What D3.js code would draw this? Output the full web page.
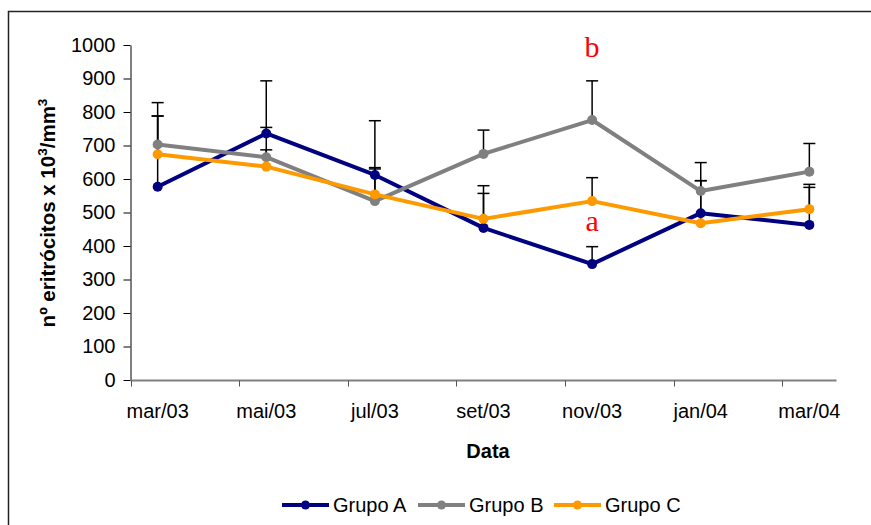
<!DOCTYPE html>
<html>
<head>
<meta charset="utf-8">
<script src="https://cdn.jsdelivr.net/npm/d3@7"></script>
<style>
  body { margin: 0; background: #fff; }
  svg { display: block; font-family: "Liberation Sans", Arial, sans-serif; }
</style>
</head>
<body>
<div id="chart"></div>
<script>
// data
var months = ["mar/03", "mai/03", "jul/03", "set/03", "nov/03", "jan/04", "mar/04"];
var grupoA = [577, 736, 612, 454, 346, 498, 463];
var grupoB = [703, 665, 534, 675, 776, 564, 622];
var grupoC = [674, 637, 554, 481, 534, 468, 510];
// upper end of each error bar
var topA = [828, 893, 774, 557, 398, 595, 575];
var topB = [788, 754, 634, 746, 893, 649, 706];
var topC = [788, 687, 630, 580, 604, 595, 584];
var yTicks = [0, 100, 200, 300, 400, 500, 600, 700, 800, 900, 1000];

var series = [
  {name: "Grupo A", values: grupoA, tops: topA, color: "#000080"},
  {name: "Grupo B", values: grupoB, tops: topB, color: "#808080"},
  {name: "Grupo C", values: grupoC, tops: topC, color: "#FF9900"}
];

var width = 871, height = 525;

var svg = d3.select("#chart").append("svg")
  .attr("width", width)
  .attr("height", height);

// chart frame
svg.append("rect")
  .attr("x", 8.5).attr("y", 11.5)
  .attr("width", 880).attr("height", 540)
  .attr("fill", "none")
  .attr("stroke", "#222")
  .attr("stroke-width", 1.5);

// index scale: the axis starts a quarter step before the first point
var x = d3.scaleLinear().domain([-0.25, 6.25]).range([130.5, 836.5]);
var y = d3.scaleLinear().domain([0, 1000]).range([380, 45]);

// y axis
var yAxis = svg.append("g")
  .attr("transform", "translate(130.5,0)")
  .call(d3.axisLeft(y).tickValues(yTicks).tickFormat(d3.format("d"))
    .tickSize(7).tickSizeOuter(0).tickPadding(8));
yAxis.select(".domain").attr("stroke", "#000");
yAxis.selectAll(".tick line").attr("stroke", "#000");
yAxis.selectAll("text")
  .attr("font-size", 20)
  .attr("fill", "#000")
  .attr("font-family", "Liberation Sans, Arial, sans-serif");

// x axis line and ticks
var xg = svg.append("g").attr("transform", "translate(0,380.5)");
xg.append("line")
  .attr("x1", x(-0.25)).attr("x2", x(6.25))
  .attr("stroke", "#808080").attr("stroke-width", 2);
xg.selectAll(".xtick")
  .data(months)
  .enter().append("line")
  .attr("class", "xtick")
  .attr("x1", function(d, i) { return Math.round(x(i - 0.25)) + 0.5; })
  .attr("x2", function(d, i) { return Math.round(x(i - 0.25)) + 0.5; })
  .attr("y1", 0).attr("y2", 6)
  .attr("stroke", "#555");
xg.selectAll(".xlabel")
  .data(months)
  .enter().append("text")
  .attr("class", "xlabel")
  .attr("x", function(d, i) { return x(i); })
  .attr("y", 37.5)
  .attr("text-anchor", "middle")
  .attr("font-size", 20)
  .text(function(d) { return d; });

// axis titles
svg.append("text")
  .attr("x", 488).attr("y", 458)
  .attr("text-anchor", "middle")
  .attr("font-size", 20)
  .attr("font-weight", "bold")
  .text("Data");

var yt = svg.append("text")
  .attr("transform", "translate(55,213) rotate(-90)")
  .attr("text-anchor", "middle")
  .attr("font-size", 20.5)
  .attr("font-weight", "bold");
yt.append("tspan").text("nº eritrócitos x 10");
yt.append("tspan").attr("font-size", 13.5).attr("dy", -8).text("3");
yt.append("tspan").attr("dy", 8).text("/mm");
yt.append("tspan").attr("font-size", 13.5).attr("dy", -8).text("3");

// error bars
series.forEach(function(s) {
  var g = svg.append("g").attr("stroke", "#000").attr("stroke-width", 1.5);
  s.values.forEach(function(v, i) {
    var cx = x(i);
    g.append("line")
      .attr("x1", cx).attr("x2", cx)
      .attr("y1", y(v)).attr("y2", y(s.tops[i]));
    g.append("line")
      .attr("x1", cx - 6).attr("x2", cx + 6)
      .attr("y1", y(s.tops[i])).attr("y2", y(s.tops[i]));
  });
});

// lines and markers
var line = d3.line()
  .x(function(d, i) { return x(i); })
  .y(function(d) { return y(d); });

series.forEach(function(s) {
  svg.append("path")
    .datum(s.values)
    .attr("d", line)
    .attr("fill", "none")
    .attr("stroke", s.color)
    .attr("stroke-width", 4)
    .attr("stroke-linejoin", "round");
  svg.selectAll(null)
    .data(s.values)
    .enter().append("circle")
    .attr("cx", function(d, i) { return x(i); })
    .attr("cy", function(d) { return y(d); })
    .attr("r", 5)
    .attr("fill", s.color);
});

// significance letters
svg.append("text")
  .attr("x", x(4)).attr("y", 57)
  .attr("text-anchor", "middle")
  .attr("font-family", "Liberation Serif, Times New Roman, serif")
  .attr("font-size", 30)
  .attr("fill", "#FF0000")
  .text("b");
svg.append("text")
  .attr("x", x(4)).attr("y", 230.5)
  .attr("text-anchor", "middle")
  .attr("font-family", "Liberation Serif, Times New Roman, serif")
  .attr("font-size", 30)
  .attr("fill", "#FF0000")
  .text("a");

// legend
var legendX = [282, 418, 554];
var legend = svg.selectAll(".legend")
  .data(series)
  .enter().append("g")
  .attr("class", "legend")
  .attr("transform", function(d, i) { return "translate(" + legendX[i] + ",505)"; });
legend.append("line")
  .attr("x1", 0).attr("x2", 47)
  .attr("stroke", function(d) { return d.color; })
  .attr("stroke-width", 4);
legend.append("circle")
  .attr("cx", 23.5).attr("r", 4.5)
  .attr("fill", function(d) { return d.color; });
legend.append("text")
  .attr("x", 51).attr("y", 7)
  .attr("font-size", 20)
  .text(function(d) { return d.name; });
</script>
</body>
</html>
